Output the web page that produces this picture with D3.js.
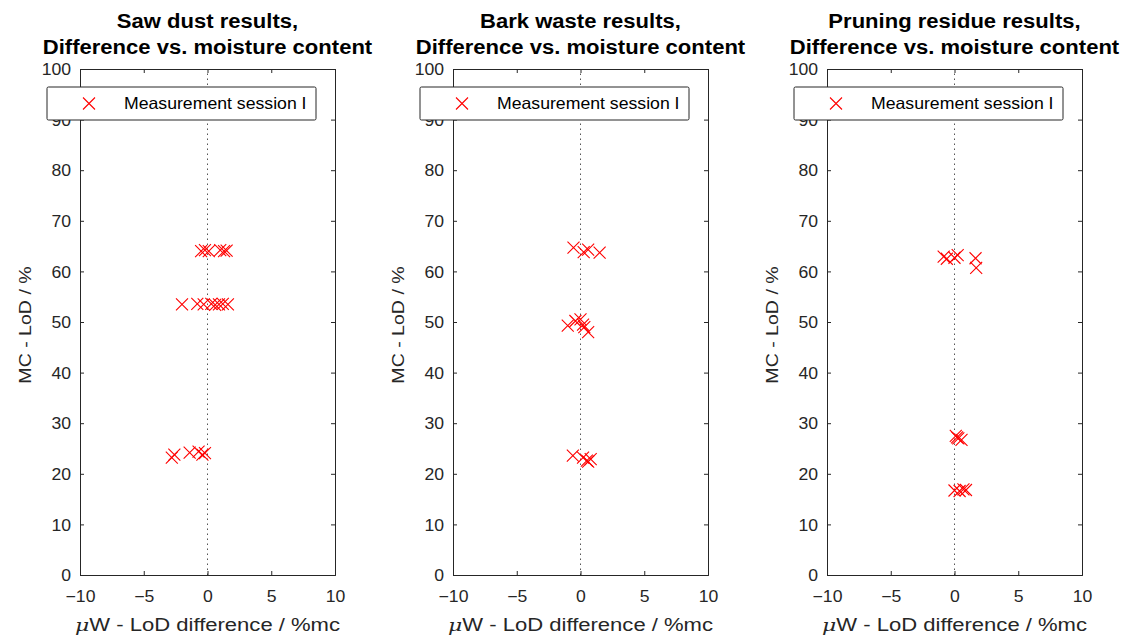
<!DOCTYPE html>
<html>
<head>
<meta charset="utf-8">
<script src="https://cdn.jsdelivr.net/npm/d3@7"></script>
<style>
  html, body { margin: 0; padding: 0; background: #ffffff; }
  svg { display: block; font-family: "Liberation Sans", Arial, Helvetica, sans-serif; }
</style>
</head>
<body>
<svg id="chart" width="1129" height="637"></svg>
<script>
// Measurement session I: μW − LoD difference (%mc) against MC − LoD (%)
const sawDustDiff = [-0.5, -0.2, 0.1, 1.0, 1.3, 1.5,
                     -2.0, -0.8, -0.3, 0.3, 0.6, 0.9, 1.2, 1.6,
                     -2.8, -2.6, -1.4, -0.7, -0.4, -0.2];
const sawDustMC   = [64.0, 64.2, 64.0, 64.2, 64.0, 64.1,
                     53.5, 53.6, 53.5, 53.6, 53.4, 53.5, 53.6, 53.5,
                     23.2, 23.8, 24.2, 24.4, 23.8, 24.1];

const barkDiff = [-0.55, 0.25, 0.6, 1.5,
                  -1.0, -0.4, 0.0, 0.2, 0.3, 0.6,
                  -0.6, 0.2, 0.5, 0.8, 0.6];
const barkMC   = [64.7, 63.8, 64.3, 63.7,
                  49.3, 50.2, 50.5, 49.5, 49.0, 48.0,
                  23.6, 23.2, 22.6, 22.9, 22.4];

const pruningDiff = [-0.85, -0.6, 0.0, 0.25, 1.65, 1.7,
                     0.1, 0.3, 0.55, 0.2,
                     0.0, 0.4, 0.7, 0.9];
const pruningMC   = [62.9, 62.5, 62.7, 63.2, 62.6, 60.7,
                     27.5, 27.0, 26.7, 27.2,
                     16.7, 16.6, 16.9, 16.8];

const panelTitles = [
  ["Saw dust results,", "Difference vs. moisture content"],
  ["Bark waste results,", "Difference vs. moisture content"],
  ["Pruning residue results,", "Difference vs. moisture content"]
];
const xTicks = [-10, -5, 0, 5, 10];
const yTicks = [0, 10, 20, 30, 40, 50, 60, 70, 80, 90, 100];
const xLabel = "W - LoD difference / %mc";
const yLabel = "MC - LoD / %";
const legendLabel = "Measurement session I";

const panels = [
  { title: panelTitles[0], xs: sawDustDiff, ys: sawDustMC, left: 80 },
  { title: panelTitles[1], xs: barkDiff, ys: barkMC, left: 453 },
  { title: panelTitles[2], xs: pruningDiff, ys: pruningMC, left: 827 }
];

const axisColor = "#262626";
const markRed = "#ff0000";
const plotW = 255, plotTop = 69, plotBottom = 575;
const fontFamily = "'Liberation Sans', Arial, sans-serif";

const svg = d3.select("#chart");

// widen text horizontally by a factor, keeping glyph height
function widen(sel, factor) {
  sel.each(function () {
    const w = this.getComputedTextLength();
    d3.select(this).attr("textLength", w * factor).attr("lengthAdjust", "spacingAndGlyphs");
  });
}

panels.forEach(p => {
  const x = d3.scaleLinear().domain([-10, 10]).range([p.left, p.left + plotW]);
  const y = d3.scaleLinear().domain([0, 100]).range([plotBottom, plotTop]);
  const g = svg.append("g");

  // zero reference line
  g.append("line")
    .attr("x1", x(0)).attr("x2", x(0))
    .attr("y1", y(0)).attr("y2", y(100))
    .attr("stroke", "#555").attr("stroke-width", 1)
    .attr("stroke-dasharray", "1.5,3.5");

  // axes with inward ticks, box on all sides
  const tick = 4;
  const bottom = g.append("g").attr("transform", `translate(0,${plotBottom})`)
    .call(d3.axisBottom(x).tickValues(xTicks).tickSize(-tick).tickFormat(d3.format("d")));
  const top = g.append("g").attr("transform", `translate(0,${plotTop})`)
    .call(d3.axisTop(x).tickValues(xTicks).tickSize(-tick).tickFormat(""));
  const leftAx = g.append("g").attr("transform", `translate(${p.left},0)`)
    .call(d3.axisLeft(y).tickValues(yTicks).tickSize(-tick).tickPadding(9).tickFormat(d3.format("d")));
  const rightAx = g.append("g").attr("transform", `translate(${p.left + plotW},0)`)
    .call(d3.axisRight(y).tickValues(yTicks).tickSize(-tick).tickFormat(""));
  [bottom, top, leftAx, rightAx].forEach(a => {
    a.select(".domain").attr("stroke", axisColor).attr("stroke-width", 1);
    a.selectAll(".tick line").attr("stroke", axisColor);
    a.selectAll(".tick text").attr("fill", axisColor)
      .style("font-size", "16px").style("font-family", fontFamily);
  });
  bottom.selectAll(".tick text").attr("y", 27).attr("dy", 0);
  leftAx.selectAll(".tick text").attr("dy", "0.36em");
  widen(bottom.selectAll(".tick text"), 1.1);
  widen(leftAx.selectAll(".tick text"), 1.1);

  // data markers (x shape)
  const h = 6;
  g.selectAll("path.mark").data(p.xs.map((v, i) => [v, p.ys[i]]))
    .join("path").attr("class", "mark")
    .attr("transform", d => `translate(${x(d[0])},${y(d[1])})`)
    .attr("d", `M${-h},${-h}L${h},${h}M${-h},${h}L${h},${-h}`)
    .attr("stroke", markRed).attr("stroke-width", 1.1).attr("fill", "none");

  // titles
  const cx = p.left + plotW / 2;
  const t1 = g.append("text").attr("x", cx).attr("y", 28).attr("text-anchor", "middle")
    .attr("font-weight", "bold").attr("font-size", 19.5).attr("fill", "#000")
    .text(p.title[0]);
  const t2 = g.append("text").attr("x", cx).attr("y", 54).attr("text-anchor", "middle")
    .attr("font-weight", "bold").attr("font-size", 19.5).attr("fill", "#000")
    .text(p.title[1]);
  widen(t1, 1.13);
  widen(t2, 1.13);

  // x label with Greek mu
  const xl = g.append("text").attr("x", cx).attr("y", 631).attr("text-anchor", "middle")
    .attr("font-size", 17.5).attr("fill", axisColor);
  xl.append("tspan").attr("font-style", "italic").attr("font-family", "'DejaVu Serif', serif").text("\u03bc");
  xl.append("tspan").text(xLabel);
  xl.attr("textLength", 265).attr("lengthAdjust", "spacingAndGlyphs");

  // y label
  const yl = g.append("text")
    .attr("transform", `translate(${p.left - 49},${(plotTop + plotBottom) / 2 + 3}) rotate(-90)`)
    .attr("text-anchor", "middle").attr("font-size", 17).attr("fill", axisColor)
    .text(yLabel);
  widen(yl, 1.15);

  // legend
  const lx = p.left - 33, ly = 87, lw = 269, lh = 33;
  const lg = g.append("g");
  lg.append("rect").attr("x", lx).attr("y", ly).attr("width", lw).attr("height", lh)
    .attr("fill", "#fff").attr("stroke", axisColor).attr("stroke-width", 1).attr("rx", 1.5);
  const mx = lx + 42, my = ly + lh / 2;
  lg.append("path")
    .attr("d", `M${mx - h},${my - h}L${mx + h},${my + h}M${mx - h},${my + h}L${mx + h},${my - h}`)
    .attr("stroke", markRed).attr("stroke-width", 1.1);
  const lt = lg.append("text").attr("x", lx + 77).attr("y", my).attr("dy", "0.36em")
    .attr("font-size", 16.5).attr("fill", "#000").text(legendLabel);
  widen(lt, 1.07);
});
</script>
</body>
</html>
